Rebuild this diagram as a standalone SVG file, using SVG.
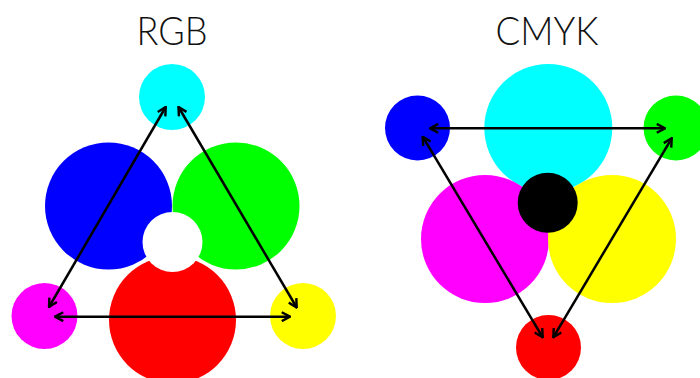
<svg xmlns="http://www.w3.org/2000/svg" width="700" height="378" viewBox="0 0 700 378">
<style>
.title{font-family:Lato,"Liberation Sans",sans-serif;font-weight:300;font-size:40px;fill:#111;text-anchor:middle}
.c{fill:#00ffff}.m{fill:#ff00ff}.y{fill:#ffff00}.r{fill:#ff0000}.g{fill:#00ff00}.b{fill:#0000ff}.k{fill:#000}.w{fill:#fff}
.conn line{stroke:#000;stroke-width:2.5;fill:none;marker-start:url(#ah);marker-end:url(#ah)}
</style>
<defs>
<marker id="ah" viewBox="0 0 10 10" refX="9" refY="5" markerWidth="11" markerHeight="11" markerUnits="userSpaceOnUse" orient="auto-start-reverse">
<path d="M1.5,1 L9,5 L1.5,9" fill="none" stroke="#000" stroke-width="2.2"/>
</marker>
</defs>
<rect width="700" height="378" fill="#fff"/>
<text class="title" x="172" y="45" textLength="71" lengthAdjust="spacingAndGlyphs">RGB</text>
<text class="title" x="547" y="45" textLength="103" lengthAdjust="spacingAndGlyphs">CMYK</text>
<g id="rgb">
<g id="rgb-blue"><circle class="b" cx="108.5" cy="206" r="63.5"/></g>
<g id="rgb-green"><circle class="g" cx="236" cy="206" r="63.5"/></g>
<g id="rgb-red"><circle class="r" cx="172.5" cy="320" r="63.5"/></g>
<g id="rgb-white"><circle class="w" cx="172.5" cy="242" r="30"/></g>
<g id="rgb-cyan"><circle class="c" cx="172" cy="97" r="33"/></g>
<g id="rgb-magenta"><circle class="m" cx="44.5" cy="316" r="33"/></g>
<g id="rgb-yellow"><circle class="y" cx="303" cy="316" r="33"/></g>
</g>
<g id="cmyk">
<g id="cmyk-cyan"><circle class="c" cx="548.3" cy="128" r="64"/></g>
<g id="cmyk-magenta"><circle class="m" cx="485" cy="239" r="64"/></g>
<g id="cmyk-yellow"><circle class="y" cx="612" cy="239" r="64"/></g>
<g id="cmyk-black"><circle class="k" cx="547.7" cy="202.7" r="30"/></g>
<g id="cmyk-blue"><circle class="b" cx="417.5" cy="128" r="32.5"/></g>
<g id="cmyk-green"><circle class="g" cx="676" cy="128" r="32.5"/></g>
<g id="cmyk-red"><circle class="r" cx="548.5" cy="347.5" r="32.5"/></g>
</g>
<g id="connectors" class="conn">
<line x1="165.7" y1="107" x2="49" y2="307"/>
<line x1="178.5" y1="107" x2="296.7" y2="307.5"/>
<line x1="55" y1="316.7" x2="290" y2="316.7"/>
<line x1="430" y1="128.3" x2="665" y2="128.3"/>
<line x1="422.7" y1="136.7" x2="542.7" y2="337.3"/>
<line x1="671.7" y1="138.3" x2="553.3" y2="337.3"/>
</g>
</svg>
